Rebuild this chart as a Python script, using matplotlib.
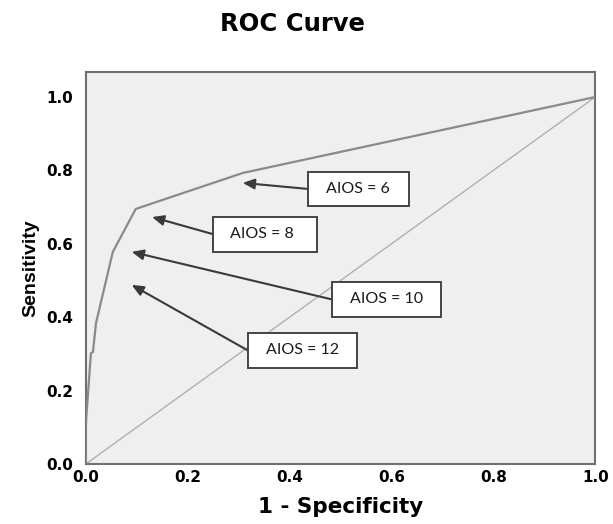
import matplotlib
matplotlib.use("Agg")
from matplotlib import pyplot as plt
from matplotlib.patches import Rectangle

plt.rcParams['font.family'] = ['DejaVu Sans']

# ROC curve points (1 - specificity, sensitivity)
fpr = [0.0, 0.0, 0.001, 0.010, 0.014, 0.020, 0.053, 0.098, 0.308, 1.0]
tpr = [0.0, 0.10, 0.128, 0.302, 0.305, 0.384, 0.578, 0.695, 0.793, 1.0]

# reference line
ref_x = [0.0, 1.0]
ref_y = [0.0, 1.0]

# cut-off annotations
labels = ['AIOS = 6', 'AIOS = 8', 'AIOS = 10', 'AIOS = 12']
head_x = [0.308, 0.130, 0.090, 0.090]
head_y = [0.766, 0.673, 0.578, 0.488]
box_x = [0.436, 0.249, 0.483, 0.318]      # left edge of box
box_y = [0.702, 0.579, 0.401, 0.262]      # bottom edge of box
box_w = [0.198, 0.204, 0.214, 0.214]
box_h = 0.095

ticks = [0.0, 0.2, 0.4, 0.6, 0.8, 1.0]

fig = plt.figure(figsize=(6.13, 5.24), dpi=100)
ax = fig.add_axes([0.140, 0.1145, 0.831, 0.748])
ax.set_facecolor('#efefef')

ax.plot(ref_x, ref_y, color='#b0b0b0', lw=1.0, zorder=2)
ax.plot(fpr, tpr, color='#8a8a8a', lw=1.6, zorder=3)

for i, lab in enumerate(labels):
    bx, by, bw = box_x[i], box_y[i], box_w[i]
    ax.add_patch(Rectangle((bx, by), bw, box_h, facecolor='white',
                           edgecolor='#444444', lw=1.4, zorder=5))
    ax.text(bx + 0.035, by + box_h / 2, lab, fontsize=11.5, family='Lato',
            ha='left', va='center', color='#1a1a1a', zorder=6)
    ax.annotate('', xy=(head_x[i], head_y[i]), xytext=(bx, by + box_h / 2),
                arrowprops=dict(arrowstyle='-|>,head_length=0.5,head_width=0.22',
                                color='#3a3a3a', lw=1.5,
                                mutation_scale=14, shrinkA=0, shrinkB=0),
                zorder=4)

ax.set_xlim(0, 1.0)
ax.set_ylim(0, 1.068)
ax.set_xticks(ticks)
ax.set_yticks(ticks)
ax.set_xticklabels(['%.1f' % t for t in ticks], fontweight='bold', fontsize=11)
ax.set_yticklabels(['%.1f' % t for t in ticks], fontweight='bold', fontsize=11)
ax.tick_params(axis='x', length=0, pad=4)
ax.tick_params(axis='y', length=0, pad=9)
for s in ax.spines.values():
    s.set_color('#707070')
    s.set_linewidth(1.5)

ax.set_xlabel('1 - Specificity', fontweight='bold', fontsize=15.5, labelpad=9)
ax.set_ylabel('Sensitivity', fontweight='bold', fontsize=14,
              family='Liberation Sans', labelpad=5)
fig.text(0.477, 0.954, 'ROC Curve', fontweight='bold', fontsize=17.5,
         ha='center', va='center')

fig.savefig('out.png', dpi=100)
